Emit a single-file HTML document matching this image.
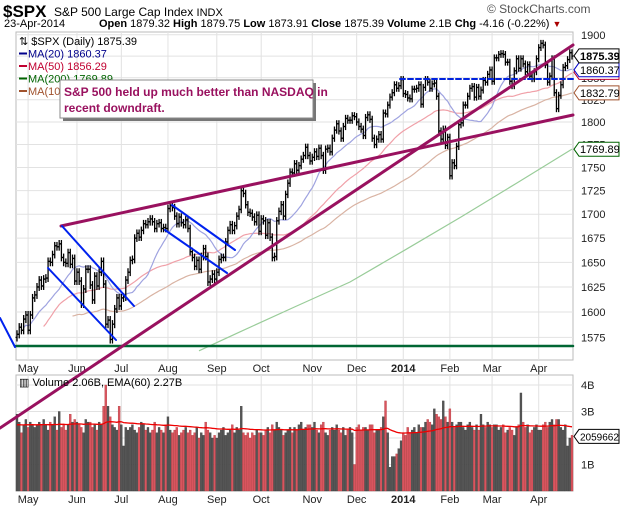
<!DOCTYPE html>
<html><head><meta charset="utf-8"><style>
body{margin:0;background:#fff;width:620px;height:507px;overflow:hidden;font-family:"Liberation Sans",sans-serif}
svg{display:block}
</style></head><body>
<svg id="c" width="620" height="507" xmlns="http://www.w3.org/2000/svg" font-family="Liberation Sans, sans-serif">
<text x="3" y="17" font-size="17" font-weight="bold">$SPX</text>
<text x="54" y="16" font-size="12">S&amp;P 500 Large Cap Index <tspan font-size="11">INDX</tspan></text>
<text x="487" y="13" font-size="12" fill="#555">© StockCharts.com</text>
<text x="4" y="27" font-size="11">23-Apr-2014</text>
<text x="99" y="27" font-size="11"><tspan font-weight="bold">Open</tspan> 1879.32 <tspan font-weight="bold">High</tspan> 1879.75 <tspan font-weight="bold">Low</tspan> 1873.91 <tspan font-weight="bold">Close</tspan> 1875.39 <tspan font-weight="bold">Volume</tspan> 2.1B <tspan font-weight="bold">Chg</tspan> -4.16 (-0.22%) <tspan fill="#a00" font-size="9">▼</tspan></text>
<g id="g"></g>
</svg>
<script>
const closes=[1578,1585,1582,1593,1597,
1582,1597,1614,1617,1625,1632,1626,1633,1634,1651,1650,1658,1667,1666,1669,1655,1650,1649,1660,1648,1654,1631,
1640,1631,1608,1623,1643,1643,1627,1612,1636,1626,1640,1651,1628,1588,1592,1573,1588,1603,1614,1606,
1614,1615,1632,1640,1652,1653,1675,1680,1676,1683,1690,1689,1692,1695,1692,1685,1690,1691,1685,1686,1685,
1706,1709,1707,1698,1690,1697,1691,1689,1694,1685,1661,1655,1646,1652,1643,1656,1664,1656,1630,1633,1638,1633,
1640,1653,1655,1655,1671,1683,1689,1683,1688,1698,1705,1725,1722,1710,1702,1701,1697,1692,1699,1682,
1695,1693,1678,1691,1676,1655,1656,1693,1703,1710,1698,1721,1733,1745,1744,1754,1747,1752,1759,1763,1772,1763,1757,
1761,1767,1762,1771,1763,1747,1770,1771,1767,1782,1791,1798,1790,1782,1795,1804,1802,1802,1807,1806,
1800,1795,1792,1785,1805,1808,1803,1782,1775,1781,1786,1781,1810,1809,1819,1828,1833,1842,1838,1841,1848,
1832,1831,1827,1826,1837,1837,1838,1842,1820,1839,1848,1845,1838,1843,1844,1829,1790,1781,1792,1774,1783,
1741,1755,1752,1773,1797,1799,1819,1819,1829,1838,1840,1828,1839,1829,1836,1847,1845,1854,1859,
1846,1873,1873,1877,1878,1877,1868,1868,1846,1841,1858,1872,1861,1872,1866,1857,1865,1852,1849,1857,1872,
1885,1890,1888,1865,1845,1852,1872,1833,1815,1830,1842,1862,1864,1871,1879,1875];
const volumes=[2.9,2.6,2.2,2.5,2.7,
2.4,2.6,2.5,2.4,2.5,2.6,2.5,2.7,2.5,2.3,2.6,2.5,2.8,2.3,3.0,2.4,2.5,2.3,2.5,2.9,2.6,2.7,
2.6,2.5,2.4,2.2,2.7,2.6,2.6,2.4,2.5,2.3,2.6,2.5,3.2,4.0,3.2,2.8,2.5,2.4,2.3,3.2,
2.5,1.7,2.4,2.3,2.4,2.5,2.3,2.2,2.4,2.6,2.5,2.3,2.4,2.2,2.3,2.6,2.2,2.4,2.3,2.2,2.5,
2.8,2.3,2.2,2.3,2.4,2.1,2.2,2.3,2.4,2.2,2.3,2.1,2.2,2.4,2.0,2.2,2.1,2.6,2.3,2.2,2.0,2.1,
2.0,2.2,2.3,2.4,2.1,2.2,2.3,2.5,2.2,2.4,2.3,3.2,2.2,2.1,2.2,2.0,2.2,2.1,2.3,2.2,
2.2,2.1,2.3,2.4,2.2,2.5,2.3,2.6,2.4,2.3,2.1,2.2,2.3,2.4,2.2,2.4,2.3,2.5,2.6,2.3,2.4,2.5,2.5,
2.4,2.6,2.3,2.2,2.5,2.6,2.2,2.1,2.3,2.4,2.3,2.5,2.3,2.2,2.4,2.1,2.3,2.4,2.2,1.0,
2.4,2.5,2.3,2.4,2.4,2.3,2.5,2.5,2.2,2.3,2.3,2.4,2.8,3.4,2.2,0.9,1.3,1.3,1.4,1.6,1.9,
2.2,2.1,2.4,2.2,2.3,2.4,2.2,2.5,2.4,2.4,2.6,2.7,2.6,2.5,3.1,2.9,2.8,2.7,3.4,2.8,2.6,
3.1,2.6,2.4,2.5,2.6,2.6,2.4,2.3,2.5,2.6,2.4,2.3,2.5,2.3,2.9,2.5,2.4,2.6,2.5,
2.4,2.5,2.5,2.3,2.4,2.5,2.2,2.3,2.4,2.3,2.1,2.4,2.5,3.7,2.6,2.4,2.5,2.2,2.3,2.4,2.5,
2.3,2.3,2.5,2.6,2.4,2.6,2.7,2.5,2.7,2.7,2.4,2.3,2.5,1.7,2.0,2.1];
// MA(200) at selected trading-day indexes
const ma200Idx=[82,100,125,150,175,200,225,250];
const ma200Vals=[1562,1580,1605,1630,1663,1697,1733,1770];
const priceTicks=[1575,1600,1625,1650,1675,1700,1725,1750,1775,1800,1825,1850,1875,1900];
const monthLabels=["May","Jun","Jul","Aug","Sep","Oct","Nov","Dec","2014","Feb","Mar","Apr"];
const monthStartIdx=[5,27,47,68,90,110,133,153,174,195,214,235];
const volTicks=[1,3,4];
const volTickLabels=["1B","3B","4B"];

const NS="http://www.w3.org/2000/svg",G=document.getElementById('g');
function el(t,a,p){const e=document.createElementNS(NS,t);for(const k in a)e.setAttribute(k,a[k]);(p||G).appendChild(e);return e;}
const N=Math.min(closes.length,volumes.length);
const L=16,R=573,PT=32,PB=360,VT=375,VB=491;
const xs=i=>L+1+i*(R-L-2)/(N-1);
const py=v=>122-1613*Math.log(v/1800);
const vy=v=>VB-v*26.5;

let f=el('rect',{x:L,y:PT,width:R-L,height:PB-PT,fill:'#fff',stroke:'#bbb'});

f=el('rect',{x:L,y:VT,width:R-L,height:VB-VT,fill:'#fff',stroke:'#bbb'});

priceTicks.forEach(t=>{const y=py(t);
 let g=el('line',{x1:L,x2:R,y1:y,y2:y,stroke:'#e2e2e2'});
 let tx=el('text',{x:R+8,y:y+4,'font-size':11,fill:'#222'});tx.textContent=t;});
[1,2,3,4].forEach(v=>{const y=vy(v);let g=el('line',{x1:L,x2:R,y1:y,y2:y,stroke:'#e2e2e2'});});
volTicks.forEach((v,k)=>{let tx=el('text',{x:R+8,y:vy(v)+4,'font-size':11,fill:'#222'});tx.textContent=volTickLabels[k];});
monthStartIdx.forEach((idx,k)=>{const x=xs(idx);
 let g=el('line',{x1:x,x2:x,y1:PT,y2:PB,stroke:'#e2e2e2'});
 g=el('line',{x1:x,x2:x,y1:VT,y2:VB,stroke:'#e2e2e2'});
 [PB+12,VB+12].forEach(yy=>{let tx=el('text',{x:x,y:yy,'font-size':11,'text-anchor':'middle','font-weight':monthLabels[k]=="2014"?'bold':'normal',fill:'#222'});tx.textContent=monthLabels[k];});});

const clip=el('clipPath',{id:'pc'});el('rect',{x:L,y:PT,width:R-L,height:PB-PT},clip);
function sma(n){return closes.slice(0,N).map((c,i)=>{const s=Math.max(0,i-n+1);let t=0;for(let j=s;j<=i;j++)t+=closes[j];return t/(i-s+1);});}
const mas=[[100,'#d9b3a3','ma-100-line',25],[50,'#f0a0a8','ma-50-line',12],[20,'#9fa3e0','ma-20-line',3]];
mas.forEach(([n,col,nm,st])=>{const m=sma(n);let d='';for(let i=st;i<N;i++){const adj=n==100?(1-Math.min(1,i/100))*-45:(n==50?(1-Math.min(1,i/50))*-25:0);d+=(i==st?'M':'L')+xs(i).toFixed(1)+','+py(m[i]+adj).toFixed(1);}
 let p=el('path',{d:d,fill:'none',stroke:col,'stroke-width':1.2,'clip-path':'url(#pc)'});});
{let d='';ma200Idx.forEach((ix,k)=>{d+=(k?'L':'M')+xs(ix).toFixed(1)+','+py(ma200Vals[k]).toFixed(1);});
 let p=el('path',{d:d,fill:'none',stroke:'#9c9','stroke-width':1.2,'clip-path':'url(#pc)'});}

for(let i=0;i<N;i++){const c=closes[i],o=i?closes[i-1]:c-3,h=Math.max(o,c)+4,l=Math.min(o,c)-4,x=xs(i);
 const g=el('g',{stroke:'#000','stroke-width':1.3});
 el('line',{x1:x,x2:x,y1:py(h),y2:py(l)},g);el('line',{x1:x-1.5,x2:x,y1:py(o),y2:py(o)},g);el('line',{x1:x,x2:x+1.5,y1:py(c),y2:py(c)},g);}

for(let i=0;i<N;i++){const down=i>0&&closes[i]<closes[i-1],x=xs(i);
 let b=el('rect',{x:x-1,y:vy(volumes[i]),width:2,height:VB-vy(volumes[i]),fill:down?'#d9545f':'#555',stroke:down?'#a33':'#333','stroke-width':0.3});
 }
{let e=volumes[0],d='';for(let i=0;i<N;i++){e=i?e+(volumes[i]-e)*2/61:2.5;d+=(i?'L':'M')+xs(i).toFixed(1)+','+vy(e).toFixed(1);}
 let p=el('path',{d:d,fill:'none',stroke:'#e00','stroke-width':1.3});}

function ln(x1,y1,x2,y2,col,w,nm,dash){let e=el('line',{x1,y1,x2,y2,stroke:col,'stroke-width':w,'stroke-linecap':'round'});if(dash)e.setAttribute('stroke-dasharray',dash);}
ln(L,346,R,346,'#006633',2.5,'support-line');
ln(400,79,R,79,'#0022dd',2,'resistance-line','5,3');
ln(61,226,R,115,'#99115f',3,'upper-trendline');
ln(0,428,R,45,'#99115f',3,'rising-trendline');
ln(0,318,15,347,'#0022ee',2,'channel-line');
ln(62,226,134,306,'#0022ee',2,'channel-line');
ln(48,268,116,340,'#0022ee',2,'channel-line');
ln(172,205,235,250,'#0022ee',2,'channel-line');
ln(165,230,227,273,'#0022ee',2,'channel-line');

const leg=[["⇅ $SPX (Daily) 1875.39","#000",null],["MA(20) 1860.37","#00008b","#00008b"],["MA(50) 1856.29","#c00030","#c00030"],["MA(200) 1769.89","#006400","#006400"],["MA(100) 1832.79","#a0522d","#a0522d"]];
leg.forEach(([t,c,sw],k)=>{const y=45+k*12.5;if(sw){let s=el('rect',{x:19,y:y-5,width:8,height:2,fill:sw});}
 let tx=el('text',{x:sw?28:19,y:y,'font-size':11,fill:c});tx.textContent=t;});
{let r=el('rect',{x:63,y:83,width:253,height:38,fill:'#777'});
 r=el('rect',{x:60,y:80,width:253,height:38,fill:'#fff',stroke:'#888'});
 let t=el('text',{x:64,y:96,'font-size':12,'font-weight':'bold',fill:'#99115f'});t.textContent='S&P 500 held up much better than NASDAQ in';
 t=el('text',{x:64,y:112,'font-size':12,'font-weight':'bold',fill:'#99115f'});t.textContent='recent downdraft.';}
{let t=el('text',{x:19,y:386,'font-size':11,fill:'#000'});t.textContent='▥ Volume 2.06B, EMA(60) 2.27B';}

function tag(y,txt,col,bold,fs,nm){let p=el('polygon',{points:`${R+1},${y} ${R+6},${y-7} 619,${y-7} 619,${y+7} ${R+6},${y+7}`,fill:'#fff',stroke:col,'stroke-width':1});
 let t=el('text',{x:R+7,y:y+4,'font-size':fs,'font-weight':bold?'bold':'normal',fill:'#000'});t.textContent=txt;}
tag(py(1856.29),'1856.29','#c00030',false,11,'ma50-value-tag');
tag(py(1860.37)+1,'1860.37','#0000cc',false,11,'ma20-value-tag');
tag(py(1875.39),'1875.39','#000',true,11,'close-value-tag');
tag(py(1832.79),'1832.79','#a0522d',false,11,'ma100-value-tag');
tag(py(1769.89),'1769.89','#006400',false,11,'ma200-value-tag');
tag(vy(2.06),'2059662','#000',false,10,'volume-value-tag');
</script>
</body></html>
